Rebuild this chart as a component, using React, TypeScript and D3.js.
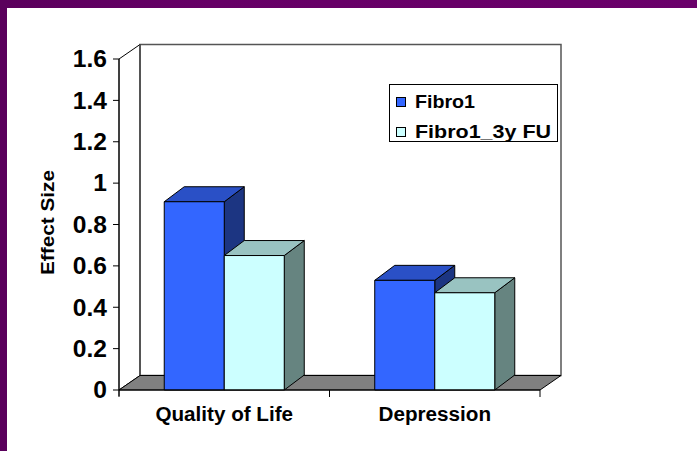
import React from "react";
import * as d3 from "d3";

const categories = ["Quality of Life", "Depression"];
const seriesNames = ["Fibro1", "Fibro1_3y FU"];
const fibro1 = [0.91, 0.53];
const fibro1_3y = [0.65, 0.47];
const yTicks = [0, 0.2, 0.4, 0.6, 0.8, 1, 1.2, 1.4, 1.6];

const W = 697;
const H = 451;
const FONT = "'Liberation Sans', Arial, sans-serif";

const colors = [
  { front: "#3366FF", top: "#2A50C6", side: "#1C3582" },
  { front: "#CCFFFF", top: "#99C3C1", side: "#668480" },
];

export default function App() {
  const y = d3.scaleLinear().domain([0, 1.6]).range([390, 59]);
  const x = d3.scaleBand<string>().domain(categories).range([119, 540]).padding(0);
  const inner = d3.scaleBand<string>().domain(seriesNames).range([0, x.bandwidth()]).paddingInner(0).paddingOuter(0.754);
  const wdx = 21, wdy = -14.5; // wall depth
  const bdx = 20, bdy = -15; // bar depth
  const x0 = x.range()[0], x1 = x.range()[1];
  const yb = y(0), yt = y(1.6);
  const data = [fibro1, fibro1_3y];
  const pts = (a: number[][]) => a.map((p) => p.join(",")).join(" ");

  const bars: JSX.Element[] = [];
  categories.forEach((c, ci) => {
    seriesNames.forEach((s, si) => {
      const v = data[si][ci];
      const l = (x(c) as number) + (inner(s) as number);
      const r = l + inner.bandwidth();
      const t = y(v);
      const b = y(0);
      const col = colors[si];
      bars.push(
        <g key={c + s} stroke="#000" strokeWidth={1} strokeLinejoin="round">
          <polygon points={pts([[r, b], [r + bdx, b + bdy], [r + bdx, t + bdy], [r, t]])} fill={col.side} />
          <polygon points={pts([[l, t], [l + bdx, t + bdy], [r + bdx, t + bdy], [r, t]])} fill={col.top} />
          <rect x={l} y={t} width={r - l} height={b - t} fill={col.front} />
        </g>
      );
    });
  });

  return (
    <div style={{ position: "fixed", left: 0, top: 0, width: W, height: H }}>
      <svg width={W} height={H} style={{ display: "block" }}>
        <defs>
          <linearGradient id="purp" x1="0" x2="1" y1="0" y2="0">
            <stop offset="0" stopColor="#5A005C" />
            <stop offset="0.3" stopColor="#660066" />
            <stop offset="1" stopColor="#6A006A" />
          </linearGradient>
        </defs>
        <rect x={0} y={0} width={W} height={H} fill="#fff" />
        <rect x={0} y={0} width={W} height={8} fill="url(#purp)" />
        <rect x={0} y={0} width={7} height={H} fill="#5A005C" />

        {/* back wall */}
        <polygon
          points={pts([[x0 + wdx, yt + wdy], [x1 + wdx, yt + wdy], [x1 + wdx, yb + wdy], [x0 + wdx, yb + wdy]])}
          fill="#fff"
          stroke="#555"
          strokeWidth={1.5}
        />
        {/* left wall */}
        <polygon
          points={pts([[x0, yt], [x0 + wdx, yt + wdy], [x0 + wdx, yb + wdy], [x0, yb]])}
          fill="#fff"
          stroke="#000"
          strokeWidth={1}
        />
        <line x1={x0 + wdx} x2={x0 + wdx} y1={yt + wdy} y2={yb + wdy} stroke="#555" strokeWidth={2} />
        {/* floor */}
        <polygon
          points={pts([[x0, yb], [x1, yb], [x1 + wdx, yb + wdy], [x0 + wdx, yb + wdy]])}
          fill="#808080"
          stroke="#000"
          strokeWidth={1}
        />

        {bars}

        {/* y axis */}
        <line x1={x0} x2={x0} y1={yt} y2={yb + 6} stroke="#000" strokeWidth={1} />
        {yTicks.map((t) => (
          <g key={t}>
            <line x1={x0 - 6} x2={x0} y1={y(t)} y2={y(t)} stroke="#000" strokeWidth={1} />
            <text
              transform={`translate(${x0 - 12},${y(t)}) scale(1.07,1)`}
              dy="0.36em"
              textAnchor="end"
              fontFamily={FONT}
              fontWeight="bold"
              fontSize={23}
              fill="#000"
            >
              {String(+t.toFixed(1))}
            </text>
          </g>
        ))}
        {/* x axis */}
        <line x1={x0} x2={x1} y1={yb} y2={yb} stroke="#000" strokeWidth={1} />
        {[...categories.map((c) => x(c) as number), x1].map((p, i) => (
          <line key={i} x1={p} x2={p} y1={yb} y2={yb + 7} stroke="#000" strokeWidth={1} />
        ))}
        {categories.map((c) => (
          <text
            key={c}
            transform={`translate(${(x(c) as number) + x.bandwidth() / 2},420.5) scale(1.06,1)`}
            textAnchor="middle"
            fontFamily={FONT}
            fontWeight="bold"
            fontSize={19.5}
            fill="#000"
          >
            {c}
          </text>
        ))}
        {/* y title */}
        <text
          transform="translate(53.5,222.5) rotate(-90)"
          textAnchor="middle"
          fontFamily={FONT}
          fontWeight="bold"
          fontSize={19}
          textLength={105}
          lengthAdjust="spacingAndGlyphs"
          fill="#000"
        >
          Effect Size
        </text>

        {/* legend */}
        <rect x={389.5} y={84.5} width={168} height={57} fill="#fff" stroke="#000" strokeWidth={1} />
        {seriesNames.map((s, i) => (
          <g key={s}>
            <rect x={396.5} y={97.5 + i * 30} width={9} height={9} fill={colors[i].front} stroke="#000" strokeWidth={1} />
            <text
              x={415}
              y={107.5 + i * 30}
              fontFamily={FONT}
              fontWeight="bold"
              fontSize={18}
              textLength={i === 0 ? 60 : 136}
              lengthAdjust="spacingAndGlyphs"
              fill="#000"
            >
              {s}
            </text>
          </g>
        ))}
      </svg>
    </div>
  );
}
